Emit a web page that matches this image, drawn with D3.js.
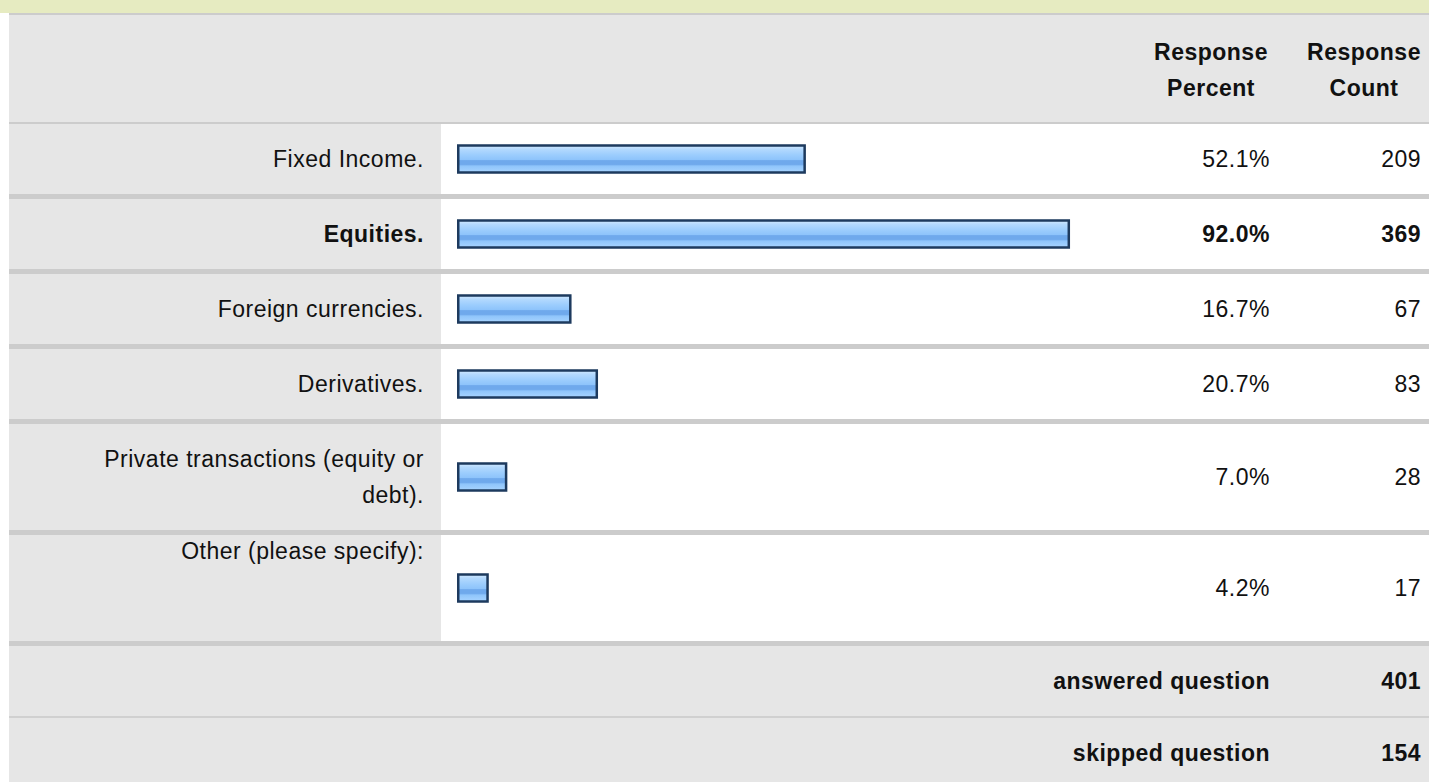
<!DOCTYPE html>
<html>
<head>
<meta charset="utf-8">
<script src="https://cdn.jsdelivr.net/npm/d3@7"></script>
<style>
  html, body { margin: 0; padding: 0; background: #fff; }
  svg { display: block; font-family: "Liberation Sans", Arial, sans-serif; }
  text { fill: #111; letter-spacing: 0.5px; }
  .bold { font-weight: bold; }
</style>
</head>
<body>
<svg width="1429" height="783"></svg>
<script>
// survey answers
var categories = ["Fixed Income.", "Equities.", "Foreign currencies.", "Derivatives.",
                  "Private transactions (equity or debt).", "Other (please specify):"];
var percents = [52.1, 92.0, 16.7, 20.7, 7.0, 4.2];
var counts = [209, 369, 67, 83, 28, 17];
var headers = [["Response", "Percent"], ["Response", "Count"]];
var footerLabels = ["answered question", "skipped question"];
var footerCounts = [401, 154];

var fontSize = 23;

var svg = d3.select("svg");
var width = +svg.attr("width");

var left = 9;            // white margin on the left
var labelRight = 441;    // end of the grey label column
var barLeft = 457;
var pctRight = 1270;
var cntRight = 1421;

// bar fill gradient
var defs = svg.append("defs");
var grad = defs.append("linearGradient").attr("id", "barGrad")
    .attr("x1", 0).attr("y1", 0).attr("x2", 0).attr("y2", 1);
[[0, "#d3eaff"], [0.14, "#b3d9fe"], [0.35, "#9ccdfd"], [0.52, "#8ec4fb"],
 [0.56, "#6fa9ec"], [0.7, "#6fa9ec"], [0.76, "#8fc5fb"], [1, "#a8d4ff"]].forEach(function(s) {
    grad.append("stop").attr("offset", s[0]).attr("stop-color", s[1]);
});

// top band and header
svg.append("rect").attr("x", 0).attr("y", 0).attr("width", width).attr("height", 13).attr("fill", "#e6ebc1");
svg.append("rect").attr("x", left).attr("y", 13).attr("width", width - left).attr("height", 2).attr("fill", "#cccccc");
svg.append("rect").attr("x", left).attr("y", 15).attr("width", width - left).attr("height", 107).attr("fill", "#e6e6e6");
svg.append("rect").attr("x", left).attr("y", 122).attr("width", width - left).attr("height", 2).attr("fill", "#cccccc");

var headerX = [1211, 1364];
headers.forEach(function(h, i) {
    svg.append("text").attr("class", "bold")
        .attr("x", headerX[i]).attr("y", 52).attr("dy", "0.35em")
        .attr("text-anchor", "middle").style("font-size", fontSize + "px")
        .text(h[0]);
    svg.append("text").attr("class", "bold")
        .attr("x", headerX[i]).attr("y", 88).attr("dy", "0.35em")
        .attr("text-anchor", "middle").style("font-size", fontSize + "px")
        .text(h[1]);
});

// wrap label text into lines no wider than maxW
function wrapLabel(str, maxW) {
    var probe = svg.append("text").style("font-size", fontSize + "px");
    var words = str.split(" ");
    var lines = [];
    var line = [];
    words.forEach(function(w) {
        line.push(w);
        probe.text(line.join(" "));
        if (probe.node().getComputedTextLength() > maxW && line.length > 1) {
            line.pop();
            lines.push(line.join(" "));
            line = [w];
        }
    });
    lines.push(line.join(" "));
    probe.remove();
    return lines;
}

var lineH = 36;
var rows = [];
var y0 = 124;
categories.forEach(function(c, i) {
    var lines = wrapLabel(c, 385);
    var extra = (c.indexOf("Other") === 0) ? 1 : 0;   // "Other" row keeps room for comments
    var h = 70 + (lines.length - 1 + extra) * lineH;
    rows.push({ name: c, lines: lines, pct: percents[i], count: counts[i], y: y0, h: h, other: extra });
    y0 += h + 5;
});

var x = d3.scaleLinear().domain([0, 100]).range([4, 666]);
var maxPct = d3.max(percents);

var row = svg.append("g").attr("class", "rows")
  .selectAll(".row")
    .data(rows)
  .enter().append("g")
    .attr("class", function(d) { return d.pct === maxPct ? "row bold" : "row"; })
    .attr("transform", function(d) { return "translate(0," + d.y + ")"; });

row.append("rect").attr("x", left).attr("width", labelRight - left)
    .attr("height", function(d) { return d.h; }).attr("fill", "#e6e6e6");
row.append("rect").attr("x", left).attr("y", function(d) { return d.h; })
    .attr("width", width - left).attr("height", 5).attr("fill", "#cccccc");

row.each(function(d) {
    var g = d3.select(this);
    var mid = d.h / 2;
    var top = d.other ? 16 : mid - (d.lines.length - 1) * lineH / 2;
    d.lines.forEach(function(l, k) {
        g.append("text")
            .attr("x", 424).attr("y", top + k * lineH).attr("dy", "0.35em")
            .attr("text-anchor", "end").style("font-size", fontSize + "px")
            .text(l);
    });
});

row.append("rect")
    .attr("x", barLeft + 1.25)
    .attr("y", function(d) { return d.h / 2 - 13.5; })
    .attr("width", function(d) { return x(d.pct) - 2.5; })
    .attr("height", 27)
    .attr("fill", "url(#barGrad)")
    .attr("stroke", "#1d3a5e").attr("stroke-width", 2.5);

row.append("text")
    .attr("x", pctRight).attr("y", function(d) { return d.h / 2; }).attr("dy", "0.35em")
    .attr("text-anchor", "end").style("font-size", fontSize + "px")
    .text(function(d) { return d.pct.toFixed(1) + "%"; });

row.append("text")
    .attr("x", cntRight).attr("y", function(d) { return d.h / 2; }).attr("dy", "0.35em")
    .attr("text-anchor", "end").style("font-size", fontSize + "px")
    .text(function(d) { return d.count; });

// footer rows
var fy = y0;
var footH = [70, 64];
footerLabels.forEach(function(f, i) {
    svg.append("rect").attr("x", left).attr("y", fy).attr("width", width - left)
        .attr("height", footH[i]).attr("fill", "#e6e6e6");
    svg.append("text").attr("class", "bold")
        .attr("x", pctRight).attr("y", fy + 35).attr("dy", "0.35em")
        .attr("text-anchor", "end").style("font-size", fontSize + "px").text(f);
    svg.append("text").attr("class", "bold")
        .attr("x", cntRight).attr("y", fy + 35).attr("dy", "0.35em")
        .attr("text-anchor", "end").style("font-size", fontSize + "px").text(footerCounts[i]);
    fy += footH[i];
    if (i === 0) {
        svg.append("rect").attr("x", left).attr("y", fy).attr("width", width - left)
            .attr("height", 2).attr("fill", "#d0d0d0");
        fy += 2;
    }
});
</script>
</body>
</html>
